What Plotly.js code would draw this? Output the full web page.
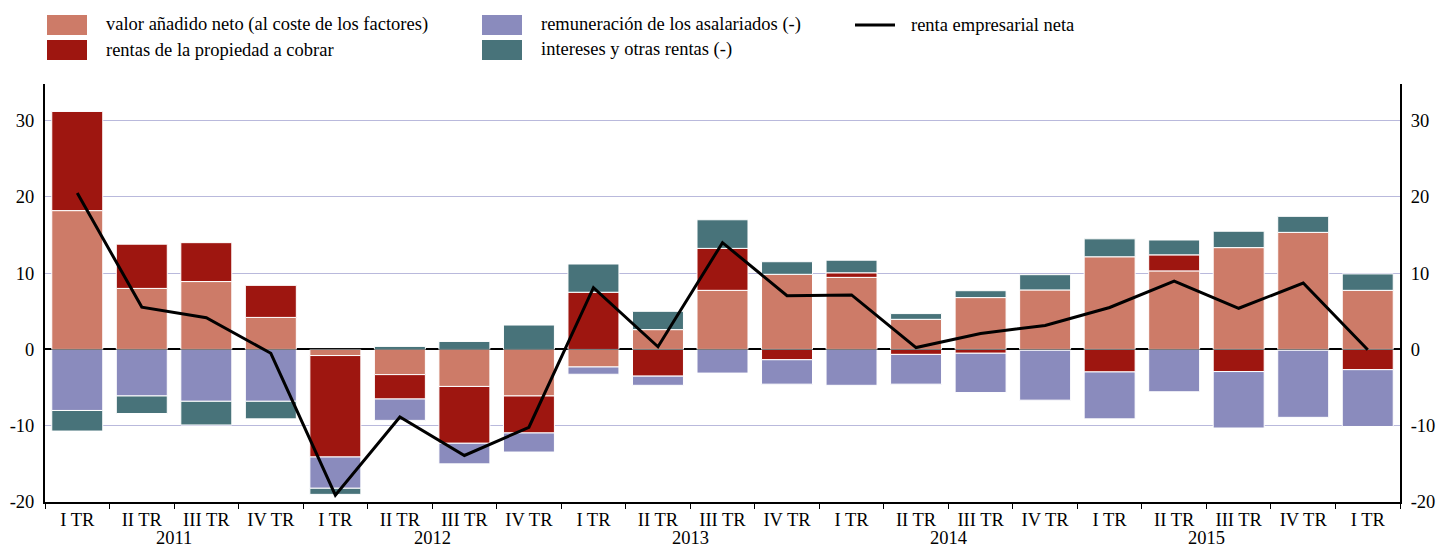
<!DOCTYPE html>
<html>
<head>
<meta charset="utf-8">
<script src="https://cdn.plot.ly/plotly-3.0.1.min.js"></script>
<style>
  html, body { margin: 0; padding: 0; background: #fff; }
  #chart { width: 1436px; height: 547px; }
</style>
</head>
<body>
<div id="chart"></div>
<script>
// quarters 2011 I TR .. 2016 I TR
const categories = ['2011-1','2011-2','2011-3','2011-4','2012-1','2012-2','2012-3','2012-4',
                    '2013-1','2013-2','2013-3','2013-4','2014-1','2014-2','2014-3','2014-4',
                    '2015-1','2015-2','2015-3','2015-4','2016-1'];
const quarterLabels = ['I TR','II TR','III TR','IV TR','I TR','II TR','III TR','IV TR',
                       'I TR','II TR','III TR','IV TR','I TR','II TR','III TR','IV TR',
                       'I TR','II TR','III TR','IV TR','I TR'];
const years = ['2011','2012','2013','2014','2015'];
const yTicks = [-20, -10, 0, 10, 20, 30];
const yTickText = ['-20', '-10', '0', '10', '20', '30'];

const valorAnadido = [18.2, 8.0, 8.9, 4.2, -0.8, -3.3, -4.85, -6.1, -2.3, 2.6, 7.75, 9.85,
                      9.45, 3.95, 6.8, 7.8, 12.15, 10.3, 13.35, 15.35, 7.75];
const rentasPropiedad = [13.0, 5.8, 5.1, 4.2, -13.3, -3.2, -7.45, -4.85, 7.5, -3.5, 5.5, -1.35,
                         0.6, -0.65, -0.5, -0.1, -2.95, 2.1, -2.9, -0.1, -2.65];
const remuneracion = [-8.0, -6.1, -6.8, -6.8, -4.1, -2.8, -2.7, -2.5, -0.95, -1.2, -3.1, -3.2,
                      -4.7, -3.9, -5.15, -6.55, -6.15, -5.55, -7.4, -8.8, -7.45];
const intereses = [-2.7, -2.3, -3.1, -2.3, -0.8, 0.4, 1.05, 3.2, 3.7, 2.4, 3.75, 1.65,
                   1.65, 0.75, 0.9, 2.0, 2.35, 1.95, 2.15, 2.1, 2.15];
const rentaNeta = [20.5, 5.55, 4.15, -0.5, -19.1, -8.85, -13.9, -10.2, 8.1, 0.35, 14.0, 7.05,
                   7.15, 0.25, 2.1, 3.15, 5.5, 8.95, 5.4, 8.7, -0.05];

const colors = {
  valor: '#cd7b68',
  rentas: '#9e1610',
  remun: '#8a8bbd',
  inter: '#48737a',
  line: '#000000'
};
const FONT = '"Liberation Serif", "Times New Roman", serif';
const FS = 18.5;

function barTrace(name, y, color) {
  return {
    type: 'bar', name: name, x: categories, y: y,
    marker: { color: color, line: { color: '#ffffff', width: 1 } },
    showlegend: false
  };
}

const traces = [
  barTrace('valor añadido neto (al coste de los factores)', valorAnadido, colors.valor),
  barTrace('rentas de la propiedad a cobrar', rentasPropiedad, colors.rentas),
  barTrace('remuneración de los asalariados (-)', remuneracion, colors.remun),
  barTrace('intereses y otras rentas (-)', intereses, colors.inter),
  {
    type: 'scatter', mode: 'lines', name: 'renta empresarial neta',
    x: categories, y: rentaNeta,
    line: { color: colors.line, width: 3 },
    showlegend: false
  }
];

// plot area in pixels, used to place the hand-made legend
const M = { l: 45, r: 36, t: 84, b: 45 };
const W = 1436, H = 547;
const pw = W - M.l - M.r, ph = H - M.t - M.b;
const px = v => (v - M.l) / pw;
const py = v => (H - M.b - v) / ph;

const legendItems = [
  { text: 'valor añadido neto (al coste de los factores)', color: colors.valor, x: 47, y: 25, kind: 'box' },
  { text: 'rentas de la propiedad a cobrar', color: colors.rentas, x: 47, y: 50, kind: 'box' },
  { text: 'remuneración de los asalariados (-)', color: colors.remun, x: 482, y: 25, kind: 'box' },
  { text: 'intereses y otras rentas (-)', color: colors.inter, x: 482, y: 50, kind: 'box' },
  { text: 'renta empresarial neta', color: colors.line, x: 855, y: 25, kind: 'line' }
];

const shapes = [];
const annotations = [];
legendItems.forEach(it => {
  if (it.kind === 'box') {
    shapes.push({
      type: 'rect', xref: 'paper', yref: 'paper',
      x0: px(it.x), x1: px(it.x + 40), y0: py(it.y + 10), y1: py(it.y - 10),
      fillcolor: it.color, line: { width: 0 }
    });
  } else {
    shapes.push({
      type: 'line', xref: 'paper', yref: 'paper',
      x0: px(it.x), x1: px(it.x + 40), y0: py(it.y), y1: py(it.y),
      line: { color: it.color, width: 3 }
    });
  }
  annotations.push({
    xref: 'paper', yref: 'paper', x: px(it.x + (it.kind === 'box' ? 57 : 54)), y: py(it.y),
    xanchor: 'left', yanchor: 'middle', showarrow: false,
    text: it.text, font: { family: FONT, size: FS, color: '#000' }
  });
});

// thin zero line that shows through the bars
shapes.push({
  type: 'line', xref: 'paper', yref: 'y', x0: 0, x1: 1, y0: 0, y1: 0,
  layer: 'above', line: { color: 'rgba(0,0,0,0.55)', width: 1 }
});

// year labels under each group of four quarters
years.forEach((yr, i) => {
  annotations.push({
    xref: 'x', yref: 'paper', x: i * 4 + 1.5, y: 0,
    xanchor: 'center', yanchor: 'top', yshift: -24, showarrow: false,
    text: yr, font: { family: FONT, size: FS, color: '#000' }
  });
});

const yRange = [-20, 34.8];

const layout = {
  width: W, height: H,
  margin: M,
  paper_bgcolor: '#ffffff',
  plot_bgcolor: '#ffffff',
  barmode: 'relative',
  bargap: 0.21,
  showlegend: false,
  font: { family: FONT, size: FS, color: '#000' },
  xaxis: {
    type: 'category',
    tickvals: categories,
    ticktext: quarterLabels,
    tickson: 'boundaries',
    ticks: 'outside', ticklen: 5, tickwidth: 1, tickcolor: '#000',
    showline: true, linecolor: '#000', linewidth: 2,
    showgrid: false, zeroline: false,
    range: [-0.5, 20.5],
    tickfont: { family: FONT, size: FS, color: '#000' }
  },
  yaxis: {
    range: yRange,
    tickvals: yTicks, ticktext: yTickText,
    showline: true, linecolor: '#000', linewidth: 2,
    showgrid: true, gridcolor: '#b9b9dc', gridwidth: 1,
    zeroline: true, zerolinecolor: '#000', zerolinewidth: 2,
    ticks: '', ticklabelstandoff: 5,
    tickfont: { family: FONT, size: FS, color: '#000' }
  },
  yaxis2: {
    overlaying: 'y', side: 'right',
    range: yRange,
    tickvals: yTicks, ticktext: yTickText,
    showline: true, linecolor: '#000', linewidth: 2,
    showgrid: false, zeroline: false,
    ticks: '', ticklabelstandoff: 5,
    tickfont: { family: FONT, size: FS, color: '#000' }
  },
  shapes: shapes,
  annotations: annotations
};

// invisible trace so the right axis is drawn
traces.push({
  type: 'scatter', mode: 'lines', x: [categories[0]], y: [0], yaxis: 'y2',
  line: { width: 0 }, hoverinfo: 'skip', showlegend: false
});

Plotly.newPlot('chart', traces, layout, { displayModeBar: false, staticPlot: true });
</script>
</body>
</html>
